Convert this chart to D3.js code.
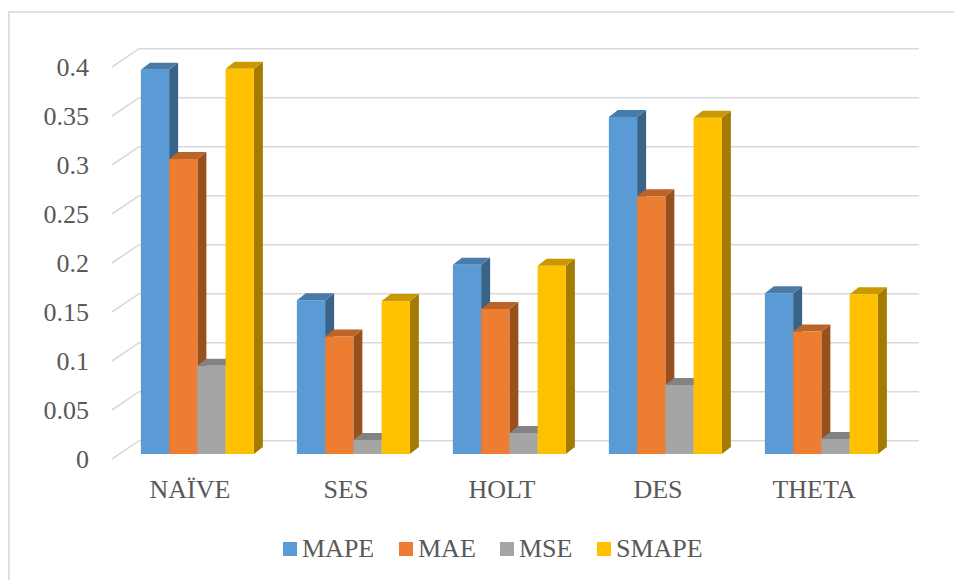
<!DOCTYPE html>
<html>
<head>
<meta charset="utf-8">
<script src="https://cdn.jsdelivr.net/npm/d3@7"></script>
<style>
  html, body { margin: 0; padding: 0; background: #fff; }
  svg { display: block; }
  text { font-family: "Liberation Serif", "Times New Roman", serif; fill: #595959; }
</style>
</head>
<body>
<svg id="chart" width="954" height="580"></svg>
<script>
// Error metrics per forecasting method
const categories = ["NAÏVE", "SES", "HOLT", "DES", "THETA"];
const seriesNames = ["MAPE", "MAE", "MSE", "SMAPE"];
const MAPE  = [0.392, 0.157, 0.193, 0.344, 0.164];
const MAE   = [0.301, 0.120, 0.148, 0.263, 0.125];
const MSE   = [0.090, 0.0143, 0.0214, 0.0704, 0.0153];
const SMAPE = [0.393, 0.156, 0.192, 0.343, 0.163];
const tickValues = [0, 0.05, 0.1, 0.15, 0.2, 0.25, 0.3, 0.35, 0.4];
const tickLabels = ["0", "0.05", "0.1", "0.15", "0.2", "0.25", "0.3", "0.35", "0.4"];
const colors = ["#5b9bd5", "#ed7d31", "#a5a5a5", "#ffc000"];

const seriesValues = [MAPE, MAE, MSE, SMAPE];

const svg = d3.select("#chart");

// Chart frame
svg.append("rect")
  .attr("x", 9).attr("y", 12)
  .attr("width", 960).attr("height", 600)
  .attr("fill", "none").attr("stroke", "#d9d9d9").attr("stroke-width", 1.6);

// Oblique 3D projection: front plane + depth vector towards the back wall
const wallDepth = [27, -18.3];
const barPlane = 0.273;            // fraction of the depth where bar fronts sit
const barDepth = [9, -7];          // visible thickness of each column

const x = d3.scaleBand().domain(categories).range([112, 892]);
const y = d3.scaleLinear().domain([0, 0.4]).range([459, 67]);

// Gridlines: diagonal on the floor-side wall plus horizontal on the back wall
const grid = svg.append("g").attr("stroke", "#d9d9d9").attr("stroke-width", 1.6).attr("fill", "none");
tickValues.forEach(v => {
  const x0 = x.range()[0], y0 = y(v);
  const xb = x0 + wallDepth[0], yb = y0 + wallDepth[1];
  const xe = x.range()[1] + wallDepth[0];
  grid.append("path").attr("d", `M${x0},${y0}L${xb},${yb}L${xe},${yb}`);
});

// Value axis labels
const axis = d3.axisLeft(y)
  .tickValues(tickValues)
  .tickFormat((d, i) => tickLabels[i])
  .tickSize(0)
  .tickPadding(0);
const axisG = svg.append("g").attr("transform", "translate(89,0)").call(axis);
axisG.select(".domain").remove();
axisG.selectAll("text")
  .attr("font-size", 26)
  .attr("fill", "#595959")
  .attr("font-family", '"Liberation Serif", "Times New Roman", serif')
  .attr("dy", "0.33em");

// Columns
const inner = d3.scaleBand().domain(seriesNames).range([0, 113]);
const shiftX = wallDepth[0] * barPlane;
const shiftY = wallDepth[1] * barPlane;
const bars = svg.append("g");

categories.forEach((cat, ci) => {
  const gx = x(cat) + x.bandwidth() / 2 - 56.5 + shiftX;
  seriesNames.forEach((s, si) => {
    const v = seriesValues[si][ci];
    const base = d3.color(colors[si]);
    const x0 = gx + inner(s);
    const x1 = x0 + inner.bandwidth();
    const yTop = y(v) + shiftY;
    const yBot = y(0) + shiftY;
    const [dx, dy] = barDepth;
    const g = bars.append("g");
    // right side
    g.append("path")
      .attr("d", `M${x1},${yBot}L${x1 + dx},${yBot + dy}L${x1 + dx},${yTop + dy}L${x1},${yTop}Z`)
      .attr("fill", base.darker(1.25));
    // top
    g.append("path")
      .attr("d", `M${x0},${yTop}L${x0 + dx},${yTop + dy}L${x1 + dx},${yTop + dy}L${x1},${yTop}Z`)
      .attr("fill", base.darker(0.65));
    // front
    g.append("rect")
      .attr("x", x0).attr("y", yTop)
      .attr("width", x1 - x0).attr("height", yBot - yTop)
      .attr("fill", base);
  });
});

// Category labels
svg.append("g").selectAll("text")
  .data(categories)
  .join("text")
  .attr("x", d => x(d) + x.bandwidth() / 2)
  .attr("y", 498)
  .attr("text-anchor", "middle")
  .attr("font-size", 26)
  .text(d => d);

// Legend
const legendX = [283, 399, 500, 597];
const legend = svg.append("g");
seriesNames.forEach((s, i) => {
  legend.append("rect")
    .attr("x", legendX[i]).attr("y", 542)
    .attr("width", 14).attr("height", 14)
    .attr("fill", colors[i]);
  legend.append("text")
    .attr("x", legendX[i] + 19).attr("y", 556.5)
    .attr("font-size", 26)
    .text(s);
});
</script>
</body>
</html>
